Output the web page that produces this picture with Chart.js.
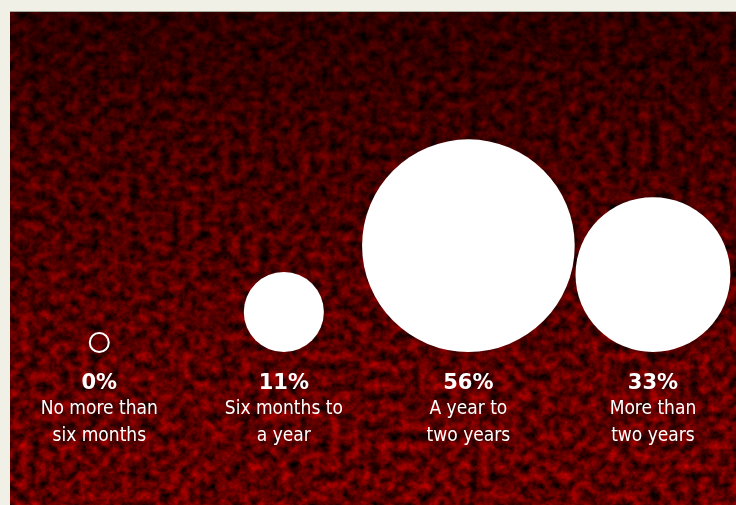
<!DOCTYPE html>
<html>
<head>
<meta charset="utf-8">
<script src="https://cdn.jsdelivr.net/npm/chart.js@4.4.0/dist/chart.umd.min.js"></script>
<style>
    html, body { margin: 0; padding: 0; }
    body { width: 736px; height: 505px; background: #f1f0e6; position: relative; overflow: hidden; }
    #panel {
        position: absolute; left: 10px; top: 11px; width: 726px; height: 494px;
        border-top: 1px solid #a9a89e; box-sizing: border-box;
        background:
            linear-gradient(180deg, rgba(0,0,0,0.55) 0%, rgba(0,0,0,0.3) 35%, rgba(0,0,0,0.05) 75%, rgba(0,0,0,0) 100%),
            url("data:image/svg+xml;utf8,<svg xmlns='http://www.w3.org/2000/svg' width='726' height='494'><filter id='n' color-interpolation-filters='sRGB'><feTurbulence type='fractalNoise' baseFrequency='0.1' numOctaves='5' seed='11'/><feColorMatrix values='1.0 0 0 0 -0.12  0 0 0 0 0  0 0 0 0 0  0 0 0 0 1'/></filter><rect width='100%' height='100%' filter='url(%23n)'/></svg>");
        background-color: #3a0000;
    }
    #chart-container { position: absolute; left: 0; top: 0; width: 736px; height: 505px; }
</style>
</head>
<body>
<div id="panel"></div>
<div id="chart-container"><canvas id="bubble-chart"></canvas></div>
<script>
// survey data
const percents = [0, 11, 56, 33];
const labelsTop = ['No more than', 'Six months to', 'A year to', 'More than'];
const labelsBottom = ['six months', 'a year', 'two years', 'two years'];

// bubble size in px from the share (empty ring for 0)
function bubbleSize(v) {
    return v > 0 ? 9.5 * Math.pow(v, 0.6) : 9.5;
}

const bubbles = percents.map((v, i) => ({ x: i, y: bubbleSize(v), r: bubbleSize(v) }));

// draw the percent + description under each bubble
const labelPlugin = {
    id: 'labelPlugin',
    afterDatasetsDraw(chart) {
        const ctx = chart.ctx;
        const meta = chart.getDatasetMeta(0);
        ctx.save();
        ctx.fillStyle = '#ffffff';
        ctx.textAlign = 'center';
        ctx.textBaseline = 'alphabetic';
        meta.data.forEach((pt, i) => {
            ctx.font = 'bold 21px "DejaVu Sans", sans-serif';
            ctx.fillText(percents[i] + '%', pt.x, 389);
            ctx.font = '19px "DejaVu Sans Condensed", "Liberation Sans Narrow", sans-serif';
            ctx.fillText(labelsTop[i], pt.x, 414);
            ctx.fillText(labelsBottom[i], pt.x, 441);
        });
        ctx.restore();
    }
};

const ctx = document.getElementById('bubble-chart').getContext('2d');
const myChart = new Chart(ctx, {
    type: 'bubble',
    data: {
        datasets: [{
            data: bubbles,
            backgroundColor: percents.map(v => v > 0 ? '#ffffff' : 'rgba(0,0,0,0)'),
            borderColor: '#ffffff',
            borderWidth: percents.map(v => v > 0 ? 0 : 2),
            hoverRadius: 0,
            clip: false,
        }]
    },
    options: {
        responsive: true,
        maintainAspectRatio: false,
        animation: false,
        layout: { autoPadding: false, padding: { left: 7, right: 0, top: 12, bottom: 153 } },
        scales: {
            x: { type: 'linear', min: -0.5, max: 3.45, display: false },
            y: { type: 'linear', min: 0, max: 340, display: false }
        },
        plugins: {
            legend: { display: false },
            tooltip: { enabled: false }
        }
    },
    plugins: [labelPlugin]
});
</script>
</body>
</html>
